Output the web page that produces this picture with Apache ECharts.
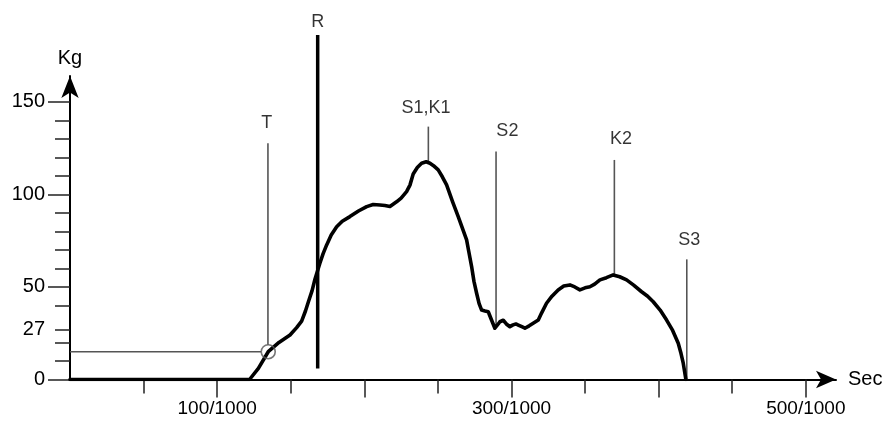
<!DOCTYPE html>
<html>
<head>
<meta charset="utf-8">
<script src="https://cdn.jsdelivr.net/npm/echarts@6/dist/echarts.min.js"></script>
<style>
  html, body { margin: 0; padding: 0; background: #fff; }
  #chart { width: 891px; height: 432px; }
</style>
</head>
<body>
<div id="chart"></div>
<script>
// force curve, time in 1/1000 sec, load in Kg
const curveSec = [0, 122, 128, 134.7, 142, 149.5, 154, 157.4, 160, 162, 164.5, 166.4, 169.8, 172, 174.4, 177.5, 181.2, 185, 190.2, 196, 201.6, 206, 210.6, 214, 217.4, 221.9, 225, 228.7, 231, 233.2, 236, 238.9, 242, 244.6, 247, 250.2, 253, 255.9, 260, 263.8, 266.5, 269.5, 271, 272.9, 274.5, 276.3, 278, 279.7, 282, 284.2, 286.5, 288.7, 291, 292.1, 294.4, 296.5, 298.9, 301, 303, 304.6, 307, 309.1, 312, 315, 318.2, 320.5, 323.8, 327.5, 331.7, 335.5, 339.7, 343, 346.5, 350, 353.3, 356.5, 360.1, 364.5, 369.1, 373.5, 378.2, 383, 388.4, 392.5, 396.3, 401, 405.4, 409.5, 413.3, 415.2, 416.7, 418.5]
const curveKg = [0, 0, 6, 15, 20, 24, 28, 31.5, 37, 42, 48, 54, 62.8, 68, 72.7, 78, 82.5, 85.5, 88, 91, 93.4, 94.5, 94.3, 94, 93.5, 96, 98, 101.5, 105, 111, 114.5, 116.8, 117.6, 116.8, 115.5, 113.2, 109.5, 105.1, 96, 88, 82, 75.4, 69, 61, 53, 46.6, 41, 37.5, 37, 36.6, 32, 27.7, 30, 31.2, 32, 30, 28.5, 29.5, 30, 29.4, 28.5, 27.7, 29, 30.5, 32.1, 36, 41.2, 45, 48.4, 50.5, 51.1, 50, 48.4, 49.5, 50.1, 51.5, 53.8, 55, 56.5, 55.5, 53.8, 51, 47.4, 45, 42, 37.5, 32.1, 26.5, 19.6, 14, 8.8, 0]

// marker lines
const guideNames = ['T', 'R', 'S1,K1', 'S2', 'K2', 'S3']
const guideSec = [134.5, 168.3, 243.5, 289.5, 369.9, 419.1]
const guideFrom = [18.8, 6, 117.5, 27.8, 56.5, 0]
const guideTo = [127.6, 186.1, 136.6, 123.1, 118.6, 64.9]
const labelSec = [133.7, 168.3, 241.9, 297.2, 374.4, 420.8]
const labelKg = [138.6, 193.3, 146.7, 134.4, 129.9, 75.4]

// threshold level and trigger point
const thresholdKg = 15
const triggerSec = 134.7

// axis ticks
const xMajorTicks = [100, 200, 300, 400, 500]
const xMinorTicks = [50, 150, 250, 350, 450]
const xLabels = [100, 300, 500]
const yMajorTicks = [0, 50, 100, 150]
const yMinorTicks = [10, 20, 27, 40, 60, 70, 80, 90, 110, 120, 130, 140]
const yLabels = [0, 27, 50, 100, 150]

const font = 'Liberation Sans, Arial, sans-serif'
const xMax = 520.5
const yMax = 164

const guideSeries = guideNames.map((name, i) => ({
  name: name,
  type: 'line',
  clip: false,
  symbol: 'none',
  silent: true,
  lineStyle: {
    color: name === 'R' ? '#000' : '#555',
    width: name === 'R' ? 3.5 : 1.6
  },
  data: [[guideSec[i], guideFrom[i]], [guideSec[i], guideTo[i]]],
  z: name === 'R' ? 4 : 2
}))

const option = {
  animation: false,
  textStyle: { fontFamily: font },
  grid: { left: 70, right: 55, top: 75.9, bottom: 52.5 },
  xAxis: [
    {
      type: 'value',
      min: 0,
      max: xMax,
      name: 'Sec',
      nameLocation: 'end',
      nameGap: 12,
      nameTextStyle: { color: '#000', fontSize: 20, fontFamily: font },
      axisLine: {
        show: true,
        symbol: ['none', 'arrow'],
        symbolSize: [13, 20],
        lineStyle: { color: '#000', width: 2 }
      },
      axisTick: {
        show: true,
        customValues: xMajorTicks,
        length: 18,
        lineStyle: { color: '#222', width: 1.5 }
      },
      axisLabel: {
        customValues: xLabels,
        formatter: v => v + '/1000',
        margin: 20,
        color: '#000',
        fontSize: 19,
        fontFamily: font
      },
      splitLine: { show: false }
    },
    {
      type: 'value',
      min: 0,
      max: xMax,
      position: 'bottom',
      axisLine: { show: false },
      axisTick: {
        show: true,
        customValues: xMinorTicks,
        length: 14,
        lineStyle: { color: '#222', width: 1.5 }
      },
      axisLabel: { show: false },
      splitLine: { show: false }
    }
  ],
  yAxis: [
    {
      type: 'value',
      min: 0,
      max: yMax,
      name: 'Kg',
      nameLocation: 'end',
      nameGap: 7,
      nameTextStyle: { color: '#000', fontSize: 20, fontFamily: font, align: 'center' },
      axisLine: {
        show: true,
        symbol: ['none', 'arrow'],
        symbolSize: [13, 22],
        lineStyle: { color: '#000', width: 2 }
      },
      axisTick: {
        show: true,
        customValues: yMajorTicks,
        length: 22,
        lineStyle: { color: '#222', width: 1.5 }
      },
      axisLabel: {
        customValues: yLabels,
        margin: 25,
        color: '#000',
        fontSize: 20,
        fontFamily: font
      },
      splitLine: { show: false }
    },
    {
      type: 'value',
      min: 0,
      max: yMax,
      position: 'left',
      axisLine: { show: false },
      axisTick: {
        show: true,
        customValues: yMinorTicks,
        length: 15,
        lineStyle: { color: '#222', width: 1.5 }
      },
      axisLabel: { show: false },
      splitLine: { show: false }
    }
  ],
  series: [
    {
      name: 'threshold',
      type: 'line',
      symbol: 'none',
      silent: true,
      lineStyle: { color: '#555', width: 1.6 },
      data: [[0, thresholdKg], [triggerSec - 4.9, thresholdKg]],
      z: 2
    },
    ...guideSeries,
    {
      name: 'force',
      type: 'line',
      symbol: 'none',
      silent: true,
      lineStyle: { color: '#000', width: 3.6, join: 'round', cap: 'round' },
      data: curveSec.map((t, i) => [t, curveKg[i]]),
      z: 3
    },
    {
      name: 'trigger',
      type: 'scatter',
      symbol: 'circle',
      symbolSize: 14,
      silent: true,
      itemStyle: { color: 'rgba(255,255,255,0)', borderColor: '#555', borderWidth: 1.6 },
      data: [[triggerSec, thresholdKg]],
      z: 5
    },
    {
      name: 'labels',
      type: 'scatter',
      clip: false,
      symbolSize: 1,
      silent: true,
      itemStyle: { color: 'rgba(255,255,255,0)' },
      label: {
        show: true,
        position: 'inside',
        color: '#000',
        fontSize: 18,
        fontFamily: font,
        formatter: p => guideNames[p.dataIndex]
      },
      data: labelSec.map((t, i) => [t, labelKg[i]]),
      z: 6
    }
  ]
}

const chart = echarts.init(document.getElementById('chart'))
chart.setOption(option)
</script>
</body>
</html>
